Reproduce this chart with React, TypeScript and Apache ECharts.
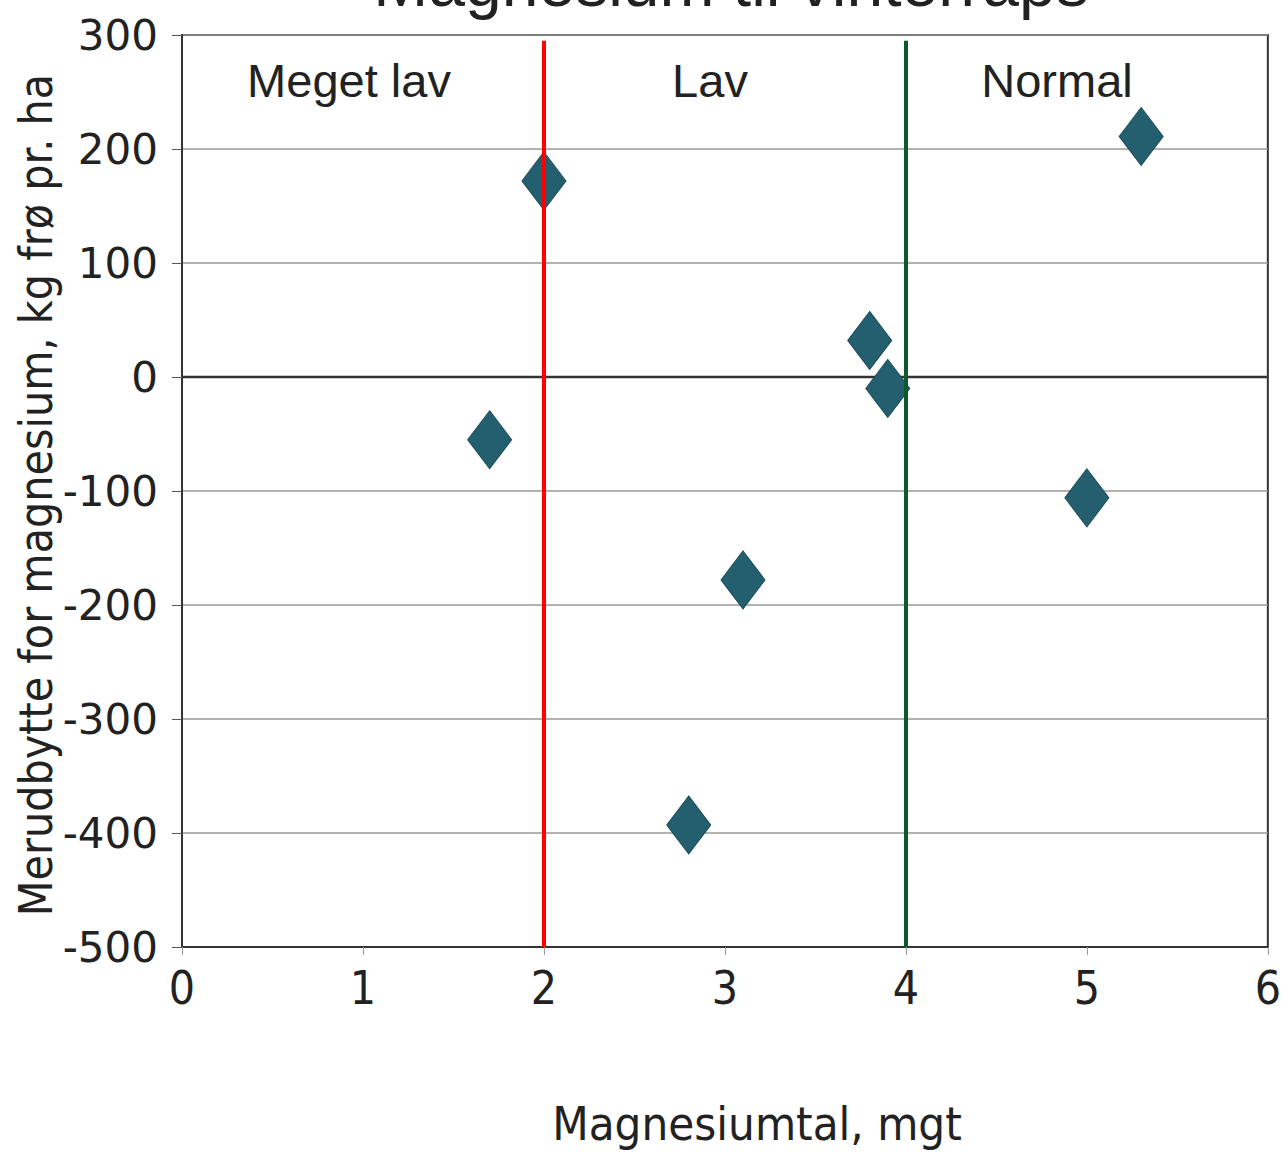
import React, { useEffect, useRef } from "react";
import * as echarts from "echarts";

const magnesiumtal = [1.7, 2.0, 2.8, 3.1, 3.8, 3.9, 5.0, 5.3];
const merudbytte = [-55, 172, -393, -178, 32, -10, -106, 211];
const xTicks = [0, 1, 2, 3, 4, 5, 6];
const yTicks = [-500, -400, -300, -200, -100, 0, 100, 200, 300];
const thresholds = [
  { x: 2, color: "#ff0000" },
  { x: 4, color: "#0d5a2c" },
];
const regionLabels = ["Meget lav", "Lav", "Normal"];
const title = "Magnesium til vinterraps";
const xName = "Magnesiumtal, mgt";
const yName = "Merudbytte for magnesium, kg frø pr. ha";

const condensed = "'DejaVu Sans Condensed', 'Liberation Sans Narrow', 'DejaVu Sans', sans-serif";
const arial = "'Liberation Sans', Arial, sans-serif";

export default function App() {
  const ref = useRef<HTMLDivElement>(null);
  useEffect(() => {
    document.body.style.margin = "0";
    const chart = echarts.init(ref.current!, null, { renderer: "svg" });
    const points = magnesiumtal.map((x, i) => [x, merudbytte[i]]);
    chart.setOption({
      animation: false,
      backgroundColor: "#ffffff",
      grid: {
        left: 182,
        right: 10,
        top: 35,
        bottom: 205,
        show: true,
        borderColor: "#333",
        borderWidth: 2,
      },
      xAxis: {
        type: "value",
        min: xTicks[0],
        max: xTicks[xTicks.length - 1],
        interval: 1,
        axisLine: { show: true, onZero: false, lineStyle: { color: "#333", width: 2 } },
        axisTick: { show: true, length: 8, lineStyle: { color: "#999" } },
        splitLine: { show: false },
        axisLabel: {
          margin: 18,
          fontFamily: condensed,
          fontSize: 46,
          color: "#222",
        },
      },
      yAxis: {
        type: "value",
        min: yTicks[0],
        max: yTicks[yTicks.length - 1],
        interval: 100,
        axisLine: { show: true, lineStyle: { color: "#333", width: 2 } },
        axisTick: { show: true, length: 10, lineStyle: { color: "#555" } },
        splitLine: { show: true, lineStyle: { color: "#999", width: 1.5 } },
        axisLabel: {
          margin: 24,
          fontFamily: "'DejaVu Sans', sans-serif",
          fontSize: 42,
          color: "#222",
        },
      },
      series: [
        {
          type: "line",
          data: [
            [xTicks[0], 0],
            [xTicks[xTicks.length - 1], 0],
          ],
          symbol: "none",
          lineStyle: { color: "#333", width: 2.5 },
          silent: true,
          z: 1,
        },
        {
          type: "scatter",
          data: points,
          symbol: "diamond",
          symbolSize: [44, 58],
          itemStyle: { color: "#235f6e", borderColor: "#1d4d59", borderWidth: 1, opacity: 1 },
          z: 2,
        },
        {
          type: "line",
          data: [],
          z: 5,
          markLine: {
            silent: true,
            symbol: "none",
            label: { show: false },
            data: thresholds.map((t) => [
              { coord: [t.x, 295], lineStyle: { color: t.color, width: 4, type: "solid" } },
              { coord: [t.x, yTicks[0]] },
            ]),
          },
        },
      ],
      graphic: [
        {
          type: "text",
          x: 731,
          y: -17,
          style: { text: title, font: `66px ${arial}`, fill: "#222", align: "center", verticalAlign: "middle" },
        },
        {
          type: "text",
          x: 349,
          y: 80,
          style: { text: regionLabels[0], font: `47px ${arial}`, fill: "#222", align: "center", verticalAlign: "middle" },
        },
        {
          type: "text",
          x: 710,
          y: 80,
          style: { text: regionLabels[1], font: `47px ${arial}`, fill: "#222", align: "center", verticalAlign: "middle" },
        },
        {
          type: "text",
          x: 1057,
          y: 80,
          style: { text: regionLabels[2], font: `47px ${arial}`, fill: "#222", align: "center", verticalAlign: "middle" },
        },
        {
          type: "text",
          x: 757,
          y: 1123,
          style: { text: xName, font: `47px ${condensed}`, fill: "#222", align: "center", verticalAlign: "middle" },
        },
        {
          type: "text",
          x: 36,
          y: 495,
          rotation: Math.PI / 2,
          style: { text: yName, font: `46px ${condensed}`, fill: "#222", align: "center", verticalAlign: "middle" },
        },
      ],
    });
    return () => chart.dispose();
  }, []);
  return <div ref={ref} style={{ width: 1284, height: 1152 }} />;
}
